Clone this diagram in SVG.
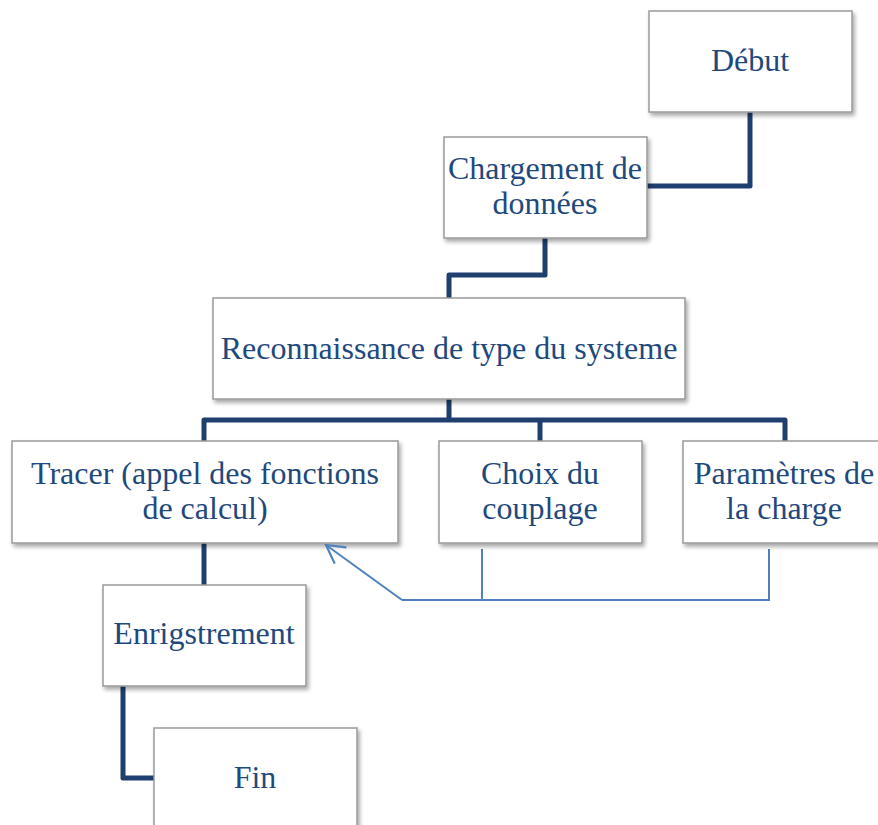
<svg xmlns="http://www.w3.org/2000/svg" width="878" height="825" viewBox="0 0 878 825">
  <style>
    .box { fill: #ffffff; stroke: #9a9a9a; stroke-width: 1.5; filter: url(#sh); }
    .lbl { font-family: "Liberation Serif", Tinos, "Times New Roman", "DejaVu Serif", serif; font-size: 32px; fill: #1f497d; text-anchor: middle; }
    .thick { fill: none; stroke: #1f3f6e; stroke-width: 5; stroke-linejoin: round; }
    .thin { fill: none; stroke: #4f81bd; stroke-width: 2; }
  </style>
  <defs>
    <filter id="sh" x="-10%" y="-10%" width="130%" height="140%">
      <feDropShadow dx="2" dy="3" stdDeviation="2" flood-color="#000" flood-opacity="0.35"/>
    </filter>
    <marker id="arr" viewBox="0 0 24 24" refX="22" refY="12" markerWidth="24" markerHeight="24" markerUnits="userSpaceOnUse" orient="auto">
      <path d="M4,2 L22,12 L4,22" fill="none" stroke="#4f81bd" stroke-width="2.2"/>
    </marker>
  </defs>
  <rect width="878" height="825" fill="#ffffff"/>

  <g id="connectors">
    <path class="thick" d="M750,112 V186 H646"/>
    <path class="thick" d="M545,238 V275 H449 V298"/>
    <path class="thick" d="M449,399 V420 M204,441 V420 H785 V441 M540,420 V441"/>
    <path class="thick" d="M204,543 V585"/>
    <path class="thick" d="M123,686 V778 H154"/>
    <path class="thin" d="M482,549 V600 M769,549 V600 H402"/>
  </g>

  <g id="debut">
    <rect class="box" x="649" y="11" width="203" height="101"/>
    <text class="lbl" x="750" y="71">Début</text>
  </g>
  <g id="chargement">
    <rect class="box" x="444" y="137" width="203" height="101"/>
    <text class="lbl" x="545" y="179">Chargement de</text>
    <text class="lbl" x="545" y="214">données</text>
  </g>
  <g id="reconnaissance">
    <rect class="box" x="213" y="298" width="472" height="101"/>
    <text class="lbl" x="449" y="359">Reconnaissance de type du systeme</text>
  </g>
  <g id="tracer">
    <rect class="box" x="12" y="441" width="386" height="102"/>
    <text class="lbl" x="205" y="484">Tracer (appel des fonctions</text>
    <text class="lbl" x="205" y="519">de calcul)</text>
  </g>
  <g id="choix">
    <rect class="box" x="439" y="441" width="203" height="102"/>
    <text class="lbl" x="540" y="484">Choix du</text>
    <text class="lbl" x="540" y="519">couplage</text>
  </g>
  <g id="parametres">
    <rect class="box" x="683" y="441" width="203" height="102"/>
    <text class="lbl" x="784" y="484">Paramètres de</text>
    <text class="lbl" x="784" y="519">la charge</text>
  </g>
  <g id="enregistrement">
    <rect class="box" x="103" y="585" width="203" height="101"/>
    <text class="lbl" x="204" y="644">Enrigstrement</text>
  </g>
  <g id="fin">
    <rect class="box" x="154" y="728" width="203" height="101"/>
    <text class="lbl" x="255" y="788">Fin</text>
  </g>

  <g id="arrow">
    <path class="thin" d="M402,600 L326,545" marker-end="url(#arr)"/>
  </g>
</svg>
